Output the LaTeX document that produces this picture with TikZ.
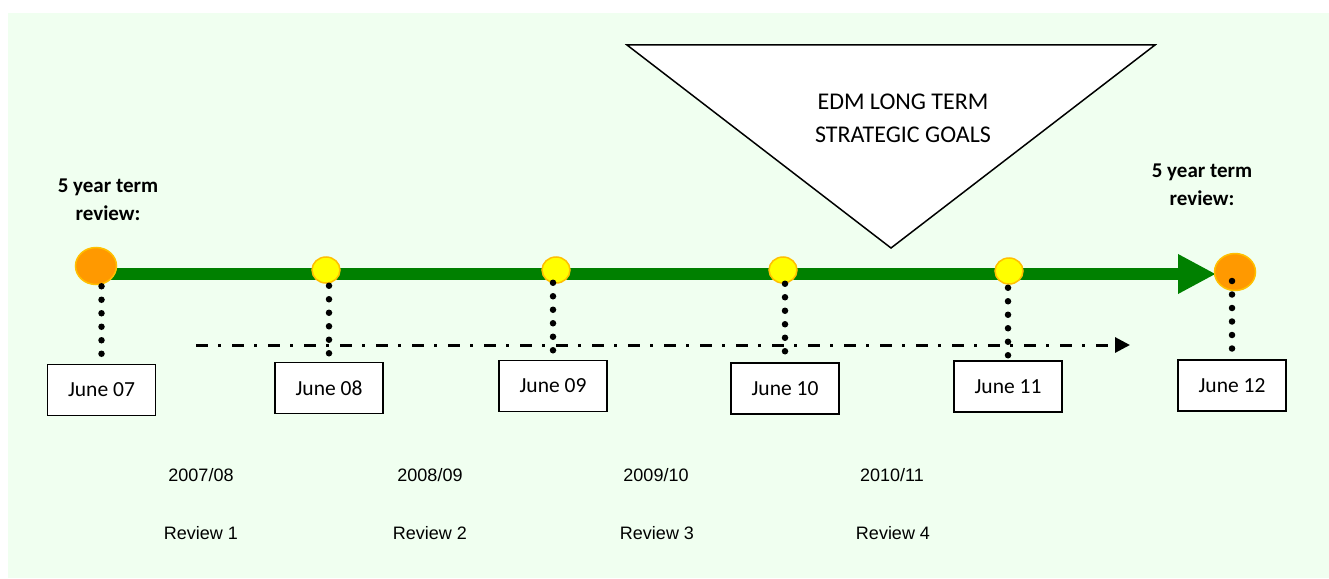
\documentclass[tikz,border=0pt]{standalone}
\usepackage{fontspec}
\setmainfont{Carlito}
\newfontfamily\arialfont{Liberation Sans}
\usetikzlibrary{arrows.meta,shapes.geometric,calc}
\definecolor{bgc}{HTML}{F0FFF0}
\definecolor{gline}{HTML}{008000}
\definecolor{orangefill}{HTML}{FF9900}
\definecolor{yellowfill}{HTML}{FFFF00}
\definecolor{ringc}{HTML}{FFC000}
\pgfdeclarelayer{bglayer}
\pgfsetlayers{bglayer,main}
\tikzset{
  bigdot/.style={ellipse,draw=ringc,line width=1.5pt,fill=orangefill,minimum width=41pt,minimum height=37pt,inner sep=0pt},
  smalldot/.style={ellipse,draw=ringc,line width=1.5pt,fill=yellowfill,minimum width=28pt,minimum height=26pt,inner sep=0pt},
  datebox/.style={draw=black,line width=1.5pt,fill=white,minimum width=108pt,minimum height=51pt,inner sep=0pt,font=\fontsize{21.5}{26}\selectfont},
  dotline/.style={line width=6.5pt,line cap=round,dash pattern=on 0pt off 13.5pt},
  termlabel/.style={align=center,font=\fontsize{21}{28}\selectfont\bfseries},
  yearlabel/.style={font=\arialfont\fontsize{18}{22}\selectfont},
  timeline/.style={gline,line width=12pt,-{Triangle[length=38pt,width=37pt]}},
  reviewline/.style={black,line width=3pt,dash pattern=on 12pt off 10pt on 3pt off 11pt,-{Triangle[length=15pt,width=15pt]}}
}
\begin{document}
\begin{tikzpicture}[x=1pt,y=-1pt]
\useasboundingbox (0,0) rectangle (1329,578);
\begin{pgfonlayer}{bglayer}
\fill[bgc] (8,13) rectangle (1329,578);
\coordinate (gstart) at (96,274);
\coordinate (gend) at (1216,274);
\draw[timeline] (gstart) -- (gend);
\coordinate (dstart) at (196,345);
\coordinate (dend) at (1130,345);
\draw[reviewline] (dstart) -- (dend);
\end{pgfonlayer}

% triangle
\coordinate (t1) at (627,45);
\coordinate (t2) at (1155,45);
\coordinate (t3) at (891,248);
\draw[line width=1.5pt,fill=white,line join=miter] (t1) -- (t2) -- (t3) -- cycle;
\node[align=center,font=\fontsize{24}{33}\selectfont] (goals) at (903,118) {EDM LONG TERM\\STRATEGIC GOALS};

% term labels
\node[termlabel] (lt) at (108,200) {5 year term\\review:};
\node[termlabel] (rt) at (1202,185) {5 year term\\review:};

% circles
\node[bigdot] (c1) at (96,266) {};
\node[smalldot] (c2) at (326,270) {};
\node[smalldot] (c3) at (556,270) {};
\node[smalldot] (c4) at (783,270) {};
\node[smalldot] (c5) at (1009,271) {};
\node[bigdot] (c6) at (1235,272) {};

% boxes
\node[datebox] (b1) at (101.5,390) {June 07};
\node[datebox] (b2) at (329,388) {June 08};
\node[datebox] (b3) at (553,386) {June 09};
\node[datebox] (b4) at (785,388.5) {June 10};
\node[datebox] (b5) at (1008,386.5) {June 11};
\node[datebox] (b6) at (1232,385.5) {June 12};

% dotted connectors (six dots each)
\draw[dotline] ($(b1.north |- c1.south)+(0,1)$) -- ($(b1.north |- c1.south)+(0,68.6)$);
\draw[dotline] ($(b2.north |- c2.south)+(0,2)$) -- ($(b2.north |- c2.south)+(0,69.6)$);
\draw[dotline] ($(b3.north |- c3.south)+(0,-1)$) -- ($(b3.north |- c3.south)+(0,66.6)$);
\draw[dotline] ($(b4.north |- c4.south)+(0,0)$) -- ($(b4.north |- c4.south)+(0,67.6)$);
\draw[dotline] ($(b5.north |- c5.south)+(0,3)$) -- ($(b5.north |- c5.south)+(0,70.6)$);
\draw[dotline] ($(b6.north |- c6.center)+(0,9)$) -- ($(b6.north |- c6.center)+(0,76.6)$);

% year labels
\node[yearlabel] (y1) at (201,475) {2007/08};
\node[yearlabel] (y2) at (430,475) {2008/09};
\node[yearlabel] (y3) at (656,475) {2009/10};
\node[yearlabel] (y4) at (892,475) {2010/11};
\node[yearlabel] (r1) at (201,533) {Review 1};
\node[yearlabel] (r2) at (430,533) {Review 2};
\node[yearlabel] (r3) at (657,533) {Review 3};
\node[yearlabel] (r4) at (893,533) {Review 4};
\end{tikzpicture}
\end{document}
